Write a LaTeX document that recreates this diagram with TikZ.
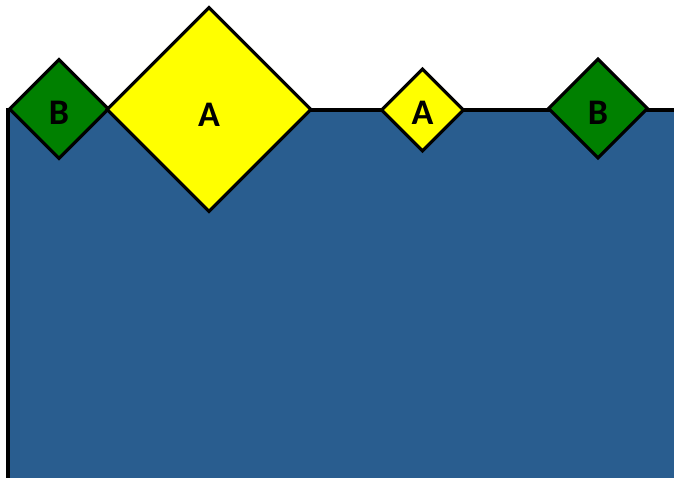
\documentclass[tikz,border=0pt]{standalone}
\usepackage{fontspec}
\setmainfont{Carlito}
\usetikzlibrary{shapes.geometric}
\definecolor{seablue}{RGB}{41,93,143}
\definecolor{dgreen}{RGB}{0,128,0}
\definecolor{yel}{RGB}{255,255,0}
\tikzset{
  gem/.style={diamond, draw=black, line width=3.2pt, inner sep=0pt, aspect=1},
  bgem/.style={gem, fill=dgreen, minimum size=100pt},
  ygem/.style={gem, fill=yel},
  gemlabel/.style={inner sep=0pt, font=\fontsize{36}{36}\selectfont\bfseries, text=black}
}
\begin{document}
\begin{tikzpicture}[x=1pt,y=-1pt]
\useasboundingbox (0,0) rectangle (674,477);
\clip (0,0) rectangle (674,477);
\fill[white] (0,0) rectangle (674,477);
\filldraw[fill=seablue, draw=black, line width=3.4pt] (8,110) rectangle (690,495);
\node[bgem] (b1) at (59,109) {};
\node[ygem, minimum size=205pt] (a1) at (209,109.5) {};
\node[ygem, minimum size=83pt] (a2) at (422.5,110) {};
\node[bgem] (b2) at (598,108.5) {};
\node[gemlabel] (lb1) at ([yshift=-3.5pt]b1.center) {B};
\node[gemlabel] (la1) at ([yshift=-5pt]a1.center) {A};
\node[gemlabel] (la2) at ([yshift=-2.5pt]a2.center) {A};
\node[gemlabel] (lb2) at ([yshift=-4pt]b2.center) {B};
\end{tikzpicture}
\end{document}
